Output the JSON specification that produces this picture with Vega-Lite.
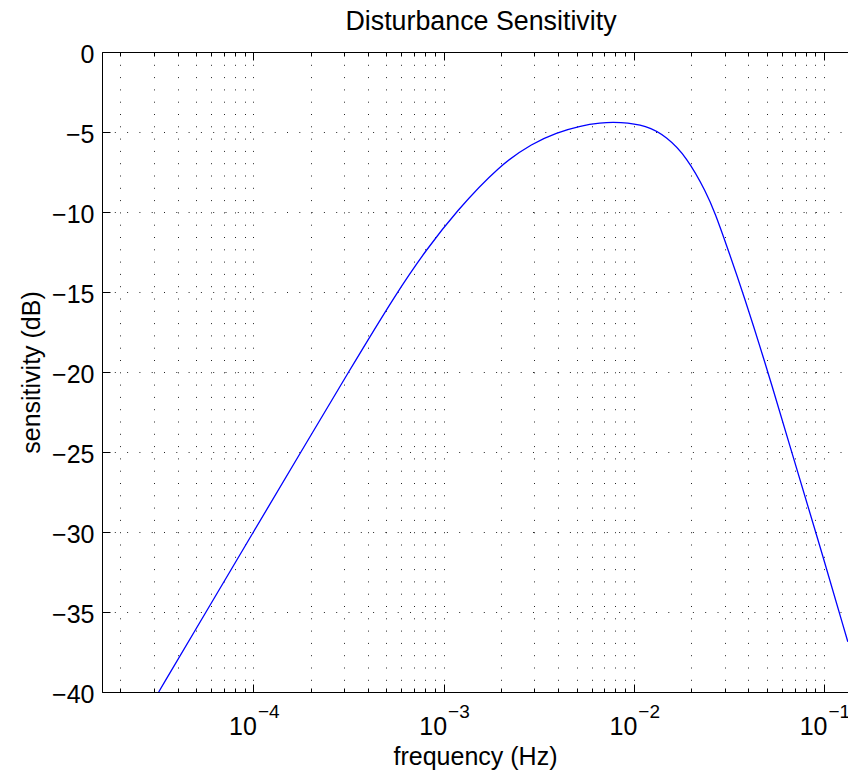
{
  "$schema": "https://vega.github.io/schema/vega-lite/v6.json",
  "width": 746,
  "height": 640,
  "autosize": {"type": "none"},
  "padding": {"left": 102, "top": 52, "right": 0, "bottom": 81},
  "background": "white",
  "config": {
    "view": {"stroke": null},
    "font": "Liberation Sans",
    "axis": {
      "labelFont": "Liberation Sans",
      "titleFont": "Liberation Sans",
      "labelColor": "#000",
      "titleColor": "#000",
      "labelFontSize": 25,
      "titleFontSize": 25,
      "titleFontWeight": "normal",
      "domainColor": "#000",
      "domainWidth": 1,
      "tickColor": "#000",
      "tickWidth": 1,
      "gridColor": "#000",
      "gridDash": [1, 11.3],
      "gridWidth": 1,
      "gridOpacity": 0.85,
      "labelFlush": false,
      "labelOverlap": false
    }
  },
  "title": {
    "text": "Disturbance Sensitivity",
    "font": "Liberation Sans",
    "fontSize": 26.8,
    "fontWeight": "normal",
    "color": "#000",
    "anchor": "middle",
    "baseline": "alphabetic",
    "offset": -15,
    "dx": 6
  },
  "data": {
    "values": [
      {"f": 0.00003177, "db": -40},
      {"f": 0.00005636, "db": -35},
      {"f": 0.0001, "db": -30},
      {"f": 0.0001778, "db": -25},
      {"f": 0.0003162, "db": -20},
      {"f": 0.0005689, "db": -15},
      {"f": 0.000811, "db": -12.36},
      {"f": 0.001156, "db": -10},
      {"f": 0.001972, "db": -7.06},
      {"f": 0.002951, "db": -5.69},
      {"f": 0.003917, "db": -5.04},
      {"f": 0.0052, "db": -4.625},
      {"f": 0.006622, "db": -4.42},
      {"f": 0.008433, "db": -4.375},
      {"f": 0.01167, "db": -4.59},
      {"f": 0.01486, "db": -5.29},
      {"f": 0.01892, "db": -6.54},
      {"f": 0.02415, "db": -8.81},
      {"f": 0.02667, "db": -10.04},
      {"f": 0.03076, "db": -12.09},
      {"f": 0.03758, "db": -15.08},
      {"f": 0.05093, "db": -20.04},
      {"f": 0.06761, "db": -25.02},
      {"f": 0.09078, "db": -30.04},
      {"f": 0.1334, "db": -36.86}
    ]
  },
  "layer": [
    {
      "mark": {"type": "line", "color": "#0000ff", "strokeWidth": 1.3, "interpolate": "basis", "clip": true},
      "encoding": {
        "x": {
          "field": "f", "type": "quantitative",
          "scale": {"type": "log", "domain": [0.000016, 0.1337], "nice": false, "zero": false},
          "axis": {
            "orient": "bottom",
            "values": [0.0001, 0.001, 0.01, 0.1],
            "labelExpr": "'10'",
            "labelAlign": "right",
            "labelOffset": 3,
            "labelBaseline": "alphabetic",
            "labelPadding": 42,
            "ticks": false,
            "domain": false,
            "grid": false,
            "title": "frequency (Hz)",
            "titlePadding": 5
          }
        },
        "y": {
          "field": "db", "type": "quantitative",
          "scale": {"domain": [-40, 0], "nice": false, "zero": false},
          "axis": {
            "orient": "left",
            "values": [-40, -35, -30, -25, -20, -15, -10, -5, 0],
            "ticks": false,
            "domain": true,
            "grid": true,
            "labelPadding": 8,
            "labelBaseline": "middle",
            "labelOffset": 2,
            "title": "sensitivity (dB)",
            "titlePadding": 7
          }
        }
      }
    },
    {
      "mark": {"type": "point", "opacity": 0},
      "encoding": {
        "x": {
          "field": "f", "type": "quantitative",
          "scale": {"type": "log", "domain": [0.000016, 0.1337], "nice": false, "zero": false},
          "axis": {
            "orient": "bottom",
            "values": [0.0001, 0.001, 0.01, 0.1],
            "labelExpr": "'−' + round(-log(datum.value)/LN10)",
            "labelAlign": "left",
            "labelOffset": 4,
            "labelFontSize": 19,
            "labelBaseline": "alphabetic",
            "labelPadding": 25,
            "ticks": false,
            "domain": false,
            "grid": false,
            "title": null
          }
        },
        "y": {
          "field": "db", "type": "quantitative",
          "scale": {"domain": [-40, 0], "nice": false, "zero": false},
          "axis": {
            "orient": "left",
            "values": [-40, -35, -30, -25, -20, -15, -10, -5, 0],
            "labels": false,
            "ticks": true,
            "tickSize": -8,
            "domain": false,
            "grid": false,
            "title": null
          }
        }
      }
    },
    {
      "mark": {"type": "point", "opacity": 0},
      "encoding": {
        "x": {
          "field": "f", "type": "quantitative",
          "scale": {"type": "log", "domain": [0.000016, 0.1337], "nice": false, "zero": false},
          "axis": {
            "orient": "bottom",
            "values": [0.00002, 0.00003, 0.00004, 0.00005, 0.00006, 0.00007, 0.00008, 0.00009, 0.0001, 0.0002, 0.0003, 0.0004, 0.0005, 0.0006, 0.0007, 0.0008, 0.0009, 0.001, 0.002, 0.003, 0.004, 0.005, 0.006, 0.007, 0.008, 0.009, 0.01, 0.02, 0.03, 0.04, 0.05, 0.06, 0.07, 0.08, 0.09, 0.1],
            "labels": false,
            "ticks": true,
            "tickSize": -4,
            "domain": true,
            "grid": true,
            "title": null
          }
        },
        "y": {
          "field": "db", "type": "quantitative",
          "scale": {"domain": [-40, 0], "nice": false, "zero": false},
          "axis": null
        }
      }
    },
    {
      "mark": {"type": "point", "opacity": 0},
      "encoding": {
        "x": {
          "field": "f", "type": "quantitative",
          "scale": {"type": "log", "domain": [0.000016, 0.1337], "nice": false, "zero": false},
          "axis": {
            "orient": "bottom",
            "values": [0.0001, 0.001, 0.01, 0.1],
            "labels": false,
            "ticks": true,
            "tickSize": -8,
            "domain": false,
            "grid": false,
            "title": null
          }
        },
        "y": {
          "field": "db", "type": "quantitative",
          "scale": {"domain": [-40, 0], "nice": false, "zero": false},
          "axis": null
        }
      }
    },
    {
      "mark": {"type": "point", "opacity": 0},
      "encoding": {
        "x": {
          "field": "f", "type": "quantitative",
          "scale": {"type": "log", "domain": [0.000016, 0.1337], "nice": false, "zero": false},
          "axis": {
            "orient": "top",
            "values": [0.00002, 0.00003, 0.00004, 0.00005, 0.00006, 0.00007, 0.00008, 0.00009, 0.0001, 0.0002, 0.0003, 0.0004, 0.0005, 0.0006, 0.0007, 0.0008, 0.0009, 0.001, 0.002, 0.003, 0.004, 0.005, 0.006, 0.007, 0.008, 0.009, 0.01, 0.02, 0.03, 0.04, 0.05, 0.06, 0.07, 0.08, 0.09, 0.1],
            "labels": false,
            "ticks": true,
            "tickSize": -4,
            "domain": true,
            "grid": false,
            "title": null
          }
        },
        "y": {
          "field": "db", "type": "quantitative",
          "scale": {"domain": [-40, 0], "nice": false, "zero": false},
          "axis": null
        }
      }
    },
    {
      "mark": {"type": "point", "opacity": 0},
      "encoding": {
        "x": {
          "field": "f", "type": "quantitative",
          "scale": {"type": "log", "domain": [0.000016, 0.1337], "nice": false, "zero": false},
          "axis": {
            "orient": "top",
            "values": [0.0001, 0.001, 0.01, 0.1],
            "labels": false,
            "ticks": true,
            "tickSize": -8,
            "domain": false,
            "grid": false,
            "title": null
          }
        },
        "y": {
          "field": "db", "type": "quantitative",
          "scale": {"domain": [-40, 0], "nice": false, "zero": false},
          "axis": null
        }
      }
    }
  ],
  "resolve": {"axis": {"x": "independent", "y": "independent"}}
}
